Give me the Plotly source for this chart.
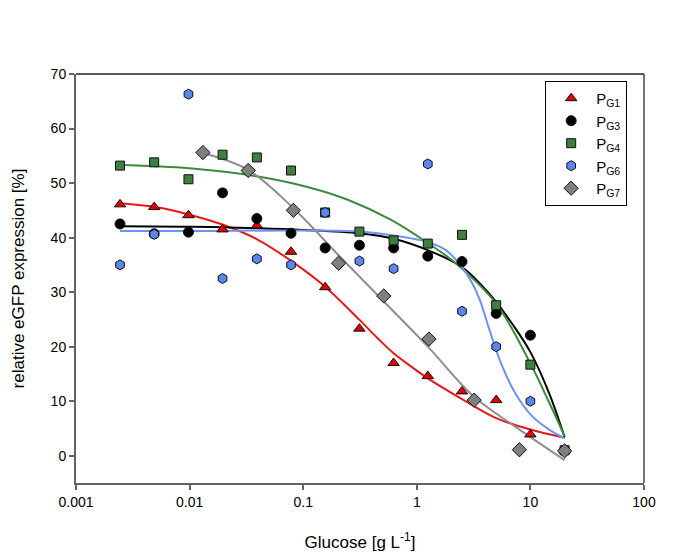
import plotly.graph_objects as go

# ---- data ----
x_dil = [0.00244, 0.00488, 0.00977, 0.0195, 0.0391, 0.0781, 0.156, 0.3125, 0.625, 1.25, 2.5, 5, 10, 20]
pg1 = [46.1, 45.6, 44.1, 41.5, 42.2, 37.4, 30.9, 23.3, 17.0, 14.6, 11.8, 10.2, 3.9, 1.0]
pg3 = [42.5, 40.7, 41.0, 48.2, 43.5, 40.8, 38.1, 38.6, 38.1, 36.6, 35.6, 26.1, 22.1, 1.0]
pg4 = [53.2, 53.8, 50.7, 55.2, 54.7, 52.3, 44.6, 41.1, 39.5, 38.9, 40.5, 27.6, 16.7, 1.0]
pg6 = [35.0, 40.6, 66.3, 32.5, 36.1, 35.0, 44.6, 35.7, 34.3, 53.5, 26.5, 20.0, 10.0, 1.0]
x_pg7 = [0.0131, 0.0328, 0.0819, 0.2048, 0.512, 1.28, 3.2, 8.0, 20]
pg7 = [55.6, 52.3, 45.0, 35.3, 29.3, 21.4, 10.2, 1.1, 0.9]

# fitted curves
fit1_x = [0.00244, 0.005, 0.01, 0.02, 0.04, 0.08, 0.156, 0.31, 0.45, 0.625, 0.9, 1.25, 2.5, 5, 10, 20]
fit1_y = [46.3, 45.6, 44.2, 42.3, 39.6, 35.6, 31.0, 25.0, 21.6, 18.8, 16.3, 14.2, 10.4, 6.9, 4.8, 3.3]
fit3_x = [0.00244, 0.01, 0.04, 0.1, 0.31, 0.625, 1.25, 2.5, 4.3, 7.3, 10, 14.6, 20]
fit3_y = [42.1, 42.0, 41.7, 41.4, 40.8, 39.8, 37.7, 34.6, 29.8, 23.5, 19.0, 11.5, 3.4]
fit4_x = [0.00244, 0.01, 0.04, 0.113, 0.25, 0.6, 1.25, 2.2, 5, 10, 14.6, 20]
fit4_y = [53.3, 52.7, 51.2, 49.2, 46.9, 43.2, 39.0, 35.3, 27.9, 16.9, 9.8, 3.6]
fit6_x = [0.00244, 0.01, 0.1, 0.31, 0.625, 1.25, 1.8, 2.5, 3.1, 3.6, 4.3, 5.6, 7.3, 10.3, 14.6, 20]
fit6_y = [41.2, 41.2, 41.3, 41.1, 40.4, 39.2, 37.7, 34.6, 31.5, 28.5, 23.5, 16.6, 11.6, 7.3, 4.8, 3.2]
fit7_x = [0.0131, 0.0328, 0.08, 0.2, 0.5, 1.25, 3.2, 7.4, 20]
fit7_y = [55.5, 52.4, 45.6, 37.0, 28.5, 20.0, 10.8, 5.3, -0.8]

x_ticks = [0.001, 0.01, 0.1, 1, 10, 100]
x_tick_labels = ["0.001", "0.01", "0.1", "1", "10", "100"]
y_ticks = [0, 10, 20, 30, 40, 50, 60, 70]

series = [
    ("P<sub>G1</sub>", x_dil, pg1, fit1_x, fit1_y, "triangle-up", "#e00000", "#e81818", 10),
    ("P<sub>G3</sub>", x_dil, pg3, fit3_x, fit3_y, "circle", "#000000", "#000000", 10),
    ("P<sub>G4</sub>", x_dil, pg4, fit4_x, fit4_y, "square", "#3d7f3d", "#3d8a3d", 9),
    ("P<sub>G6</sub>", x_dil, pg6, fit6_x, fit6_y, "hexagon", "#5b85f0", "#6b93f2", 10),
    ("P<sub>G7</sub>", x_pg7, pg7, fit7_x, fit7_y, "diamond", "#7f7f7f", "#8f8f8f", 11),
]

fig = go.Figure()
# curves first (behind markers)
for name, xs, ys, fx, fy, sym, mc, lc, sz in series:
    fig.add_trace(go.Scatter(x=fx, y=fy, mode="lines", line=dict(color=lc, width=2, shape="spline"),
                             showlegend=False, hoverinfo="skip"))
for name, xs, ys, fx, fy, sym, mc, lc, sz in series:
    fig.add_trace(go.Scatter(x=xs, y=ys, mode="markers", name=name,
                             marker=dict(symbol=sym, color=mc, size=sz,
                                         line=dict(color="#111111", width=1))))

axis_col = "#646464"
fig.update_layout(
    width=677, height=551,
    margin=dict(l=68, r=41, t=66, b=76),
    paper_bgcolor="white", plot_bgcolor="white",
    font=dict(family="Liberation Sans, Arial, sans-serif", color="#000000", size=14),
    xaxis=dict(type="log", range=[-3, 2], tickvals=x_ticks, ticktext=x_tick_labels,
               showgrid=False, zeroline=False, showline=True, linecolor=axis_col, linewidth=2,
               ticks="outside", ticklen=5, tickwidth=1.5, tickcolor=axis_col,
               tickfont=dict(size=14), automargin=False,
               title=dict(text="Glucose [g L<sup>-1</sup>]", font=dict(size=17), standoff=27)),
    yaxis=dict(range=[-5, 70], tickvals=y_ticks, showgrid=False, zeroline=False,
               showline=True, linecolor=axis_col, linewidth=2,
               ticks="outside", ticklen=5, tickwidth=1.5, tickcolor=axis_col,
               tickfont=dict(size=14), automargin=False,
               title=dict(text="relative eGFP expression [%]", font=dict(size=17), standoff=22)),
    legend=dict(x=0.826, y=0.983, xanchor="left", yanchor="top",
                bordercolor="#000000", borderwidth=1, bgcolor="white",
                font=dict(size=15), itemwidth=40, tracegroupgap=0),
    shapes=[
        dict(type="line", xref="paper", yref="paper", x0=0, x1=1, y0=1, y1=1,
             line=dict(color="#222222", width=1.5)),
        dict(type="line", xref="paper", yref="paper", x0=1, x1=1, y0=0, y1=1,
             line=dict(color="#444444", width=1.5)),
    ],
)

fig.write_html("out.html")
